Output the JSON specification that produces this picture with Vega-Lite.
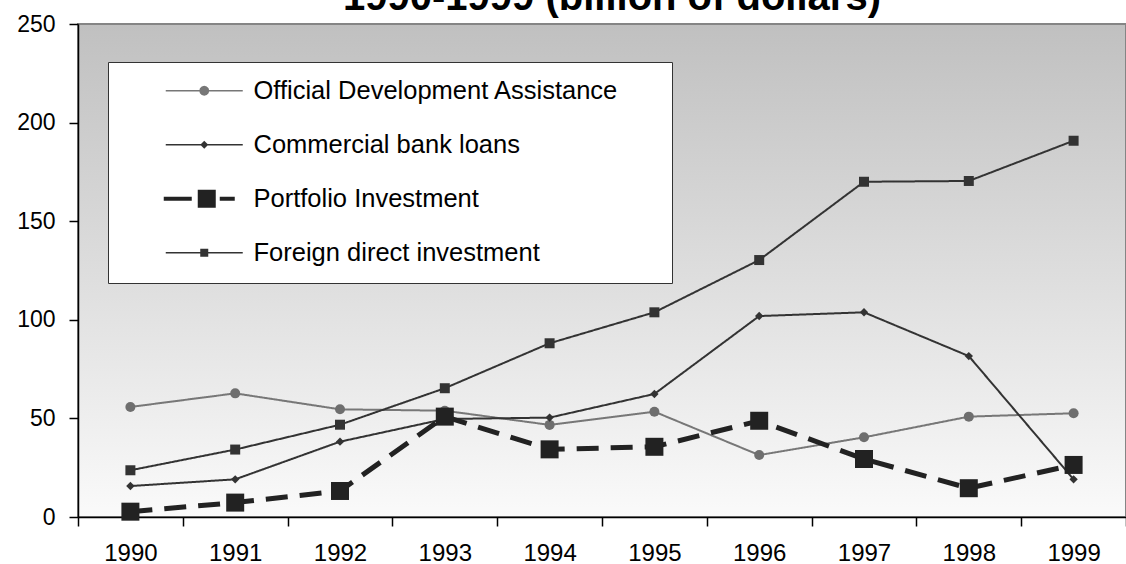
{
  "$schema": "https://vega.github.io/schema/vega-lite/v6.json",
  "autosize": "none",
  "width": 1048,
  "height": 493,
  "padding": {"left": 78, "top": 24, "right": 0, "bottom": 47},
  "background": "white",
  "title": {
    "text": "1990-1999 (billion of dollars)",
    "font": "Liberation Sans",
    "fontSize": 40,
    "fontWeight": "bold",
    "color": "black",
    "anchor": "middle",
    "baseline": "alphabetic",
    "offset": -37,
    "dx": 10
  },
  "config": {
    "view": {
      "fill": {
        "gradient": "linear",
        "x1": 0, "y1": 0, "x2": 0, "y2": 1,
        "stops": [
          {"offset": 0, "color": "#c0c0c0"},
          {"offset": 1, "color": "#fafafa"}
        ]
      },
      "stroke": "#858585",
      "strokeWidth": 2
    },
    "axis": {
      "labelFont": "Liberation Sans",
      "labelFontSize": 23,
      "labelColor": "black",
      "domainColor": "black",
      "domainWidth": 1.5,
      "tickColor": "black",
      "tickWidth": 1.5,
      "tickSize": 9,
      "grid": false,
      "title": null
    }
  },
  "data": {
    "values": [
      {"year": "1990", "series": "Official Development Assistance", "value": 55.8},
      {"year": "1991", "series": "Official Development Assistance", "value": 62.7},
      {"year": "1992", "series": "Official Development Assistance", "value": 54.6},
      {"year": "1993", "series": "Official Development Assistance", "value": 53.9},
      {"year": "1994", "series": "Official Development Assistance", "value": 46.7},
      {"year": "1995", "series": "Official Development Assistance", "value": 53.4},
      {"year": "1996", "series": "Official Development Assistance", "value": 31.4},
      {"year": "1997", "series": "Official Development Assistance", "value": 40.4},
      {"year": "1998", "series": "Official Development Assistance", "value": 50.9},
      {"year": "1999", "series": "Official Development Assistance", "value": 52.6},
      {"year": "1990", "series": "Commercial bank loans", "value": 15.7},
      {"year": "1991", "series": "Commercial bank loans", "value": 19.1},
      {"year": "1992", "series": "Commercial bank loans", "value": 38.2},
      {"year": "1993", "series": "Commercial bank loans", "value": 49.7},
      {"year": "1994", "series": "Commercial bank loans", "value": 50.4},
      {"year": "1995", "series": "Commercial bank loans", "value": 62.4},
      {"year": "1996", "series": "Commercial bank loans", "value": 101.9},
      {"year": "1997", "series": "Commercial bank loans", "value": 103.8},
      {"year": "1998", "series": "Commercial bank loans", "value": 81.6},
      {"year": "1999", "series": "Commercial bank loans", "value": 19.1},
      {"year": "1990", "series": "Foreign direct investment", "value": 23.7},
      {"year": "1991", "series": "Foreign direct investment", "value": 34.2},
      {"year": "1992", "series": "Foreign direct investment", "value": 46.8},
      {"year": "1993", "series": "Foreign direct investment", "value": 65.3},
      {"year": "1994", "series": "Foreign direct investment", "value": 88.1},
      {"year": "1995", "series": "Foreign direct investment", "value": 103.8},
      {"year": "1996", "series": "Foreign direct investment", "value": 130.3},
      {"year": "1997", "series": "Foreign direct investment", "value": 170.0},
      {"year": "1998", "series": "Foreign direct investment", "value": 170.4},
      {"year": "1999", "series": "Foreign direct investment", "value": 190.8},
      {"year": "1990", "series": "Portfolio Investment", "value": 2.7},
      {"year": "1991", "series": "Portfolio Investment", "value": 7.3},
      {"year": "1992", "series": "Portfolio Investment", "value": 13.2},
      {"year": "1993", "series": "Portfolio Investment", "value": 50.9},
      {"year": "1994", "series": "Portfolio Investment", "value": 34.3},
      {"year": "1995", "series": "Portfolio Investment", "value": 35.6},
      {"year": "1996", "series": "Portfolio Investment", "value": 48.8},
      {"year": "1997", "series": "Portfolio Investment", "value": 29.4},
      {"year": "1998", "series": "Portfolio Investment", "value": 14.6},
      {"year": "1999", "series": "Portfolio Investment", "value": 26.4}
    ]
  },
  "encoding": {
    "x": {
      "field": "year",
      "type": "ordinal",
      "bandPosition": 0.5,
      "scale": {"type": "band", "paddingInner": 0, "paddingOuter": 0},
      "axis": {"labelAngle": 0, "tickBand": "extent", "labelPadding": 15, "labelFontSize": 24}
    },
    "y": {
      "field": "value",
      "type": "quantitative",
      "scale": {"domain": [0, 250], "nice": false, "zero": true},
      "axis": {"values": [0, 50, 100, 150, 200, 250], "labelPadding": 14}
    }
  },
  "resolve": {"scale": {"shape": "independent", "color": "independent", "size": "independent"}, "legend": {"shape": "independent", "color": "independent"}},
  "layer": [
    {
      "mark": {"type": "line", "strokeJoin": "miter"},
      "encoding": {
        "color": {
          "field": "series", "type": "nominal", "legend": null,
          "scale": {
            "domain": ["Official Development Assistance", "Commercial bank loans", "Portfolio Investment", "Foreign direct investment"],
            "range": ["#777777", "#333333", "#222222", "#333333"]
          }
        },
        "strokeWidth": {
          "field": "series", "type": "nominal", "legend": null,
          "scale": {
            "type": "ordinal",
            "domain": ["Official Development Assistance", "Commercial bank loans", "Portfolio Investment", "Foreign direct investment"],
            "range": [2, 2, 5, 2]
          }
        },
        "strokeDash": {
          "field": "series", "type": "nominal", "legend": null,
          "scale": {
            "domain": ["Official Development Assistance", "Commercial bank loans", "Portfolio Investment", "Foreign direct investment"],
            "range": [[1, 0], [1, 0], [22, 12], [1, 0]]
          }
        },
        "order": {"field": "year", "type": "ordinal"}
      }
    },
    {
      "mark": {"type": "point", "filled": true, "opacity": 1},
      "encoding": {
        "color": {
          "field": "series", "type": "nominal", "legend": null,
          "scale": {
            "domain": ["Official Development Assistance", "Commercial bank loans", "Portfolio Investment", "Foreign direct investment"],
            "range": ["#6e6e6e", "#333333", "#222222", "#333333"]
          }
        },
        "size": {
          "field": "series", "type": "nominal", "legend": null,
          "scale": {
            "type": "ordinal",
            "domain": ["Official Development Assistance", "Commercial bank loans", "Portfolio Investment", "Foreign direct investment"],
            "range": [100, 70, 324, 100]
          }
        },
        "shape": {
          "field": "series", "type": "nominal", "legend": null,
          "scale": {
            "domain": ["Official Development Assistance", "Commercial bank loans", "Portfolio Investment", "Foreign direct investment"],
            "range": ["circle", "diamond", "square", "square"]
          }
        }
      }
    },
    {
      "mark": {"type": "point", "filled": true, "opacity": 0},
      "encoding": {
        "color": {
          "field": "series", "type": "nominal",
          "scale": {
            "domain": ["Official Development Assistance", "Commercial bank loans", "Portfolio Investment", "Foreign direct investment"],
            "range": ["#777777", "#333333", "#222222", "#333333"]
          }
        },
        "shape": {
          "field": "series", "type": "nominal",
          "scale": {
            "domain": ["Official Development Assistance", "Commercial bank loans", "Portfolio Investment", "Foreign direct investment"],
            "range": [
              "M-8.05,0 M45.15,0 M-3.85,-0.08 H-0.45 V0.08 H-3.85 Z M0.45,-0.08 H3.85 V0.08 H0.45 Z M0.5,0 L0.433,0.25 L0.25,0.433 L0,0.5 L-0.25,0.433 L-0.433,0.25 L-0.5,0 L-0.433,-0.25 L-0.25,-0.433 L0,-0.5 L0.25,-0.433 L0.433,-0.25 Z",
              "M-8.05,0 M45.15,0 M-3.85,-0.08 H-0.35 V0.08 H-3.85 Z M0.35,-0.08 H3.85 V0.08 H0.35 Z M-0.4,0 L0,-0.4 L0.4,0 L0,0.4 Z",
              "M-8.05,0 M45.15,0 M-4.05,-0.2 H-1.25 V0.2 H-4.05 Z M1.55,-0.2 H3.05 V0.2 H1.55 Z M-0.65,-0.9 H1.15 V0.9 H-0.65 Z",
              "M-8.05,0 M45.15,0 M-3.85,-0.08 H-0.4 V0.08 H-3.85 Z M0.4,-0.08 H3.85 V0.08 H0.4 Z M-0.4,-0.4 H0.4 V0.4 H-0.4 Z"
            ]
          },
          "legend": {
            "title": null,
            "orient": "none",
            "legendX": 30,
            "legendY": 38,
            "direction": "vertical",
            "fillColor": "white",
            "strokeColor": "#333333",
            "padding": 16,
            "rowPadding": 27,
            "symbolSize": 400,
            "symbolOffset": 67.5,
            "symbolOpacity": 1,
            "symbolStrokeWidth": 0,
            "labelOffset": 36.5,
            "labelFont": "Liberation Sans",
            "labelFontSize": 25.5,
            "labelColor": "black",
            "labelLimit": 800,
            "encode": {
              "legend": {"update": {"strokeWidth": {"value": 1.5}}},
              "symbols": {"update": {"opacity": {"value": 1}}}
            }
          }
        }
      }
    }
  ]
}
